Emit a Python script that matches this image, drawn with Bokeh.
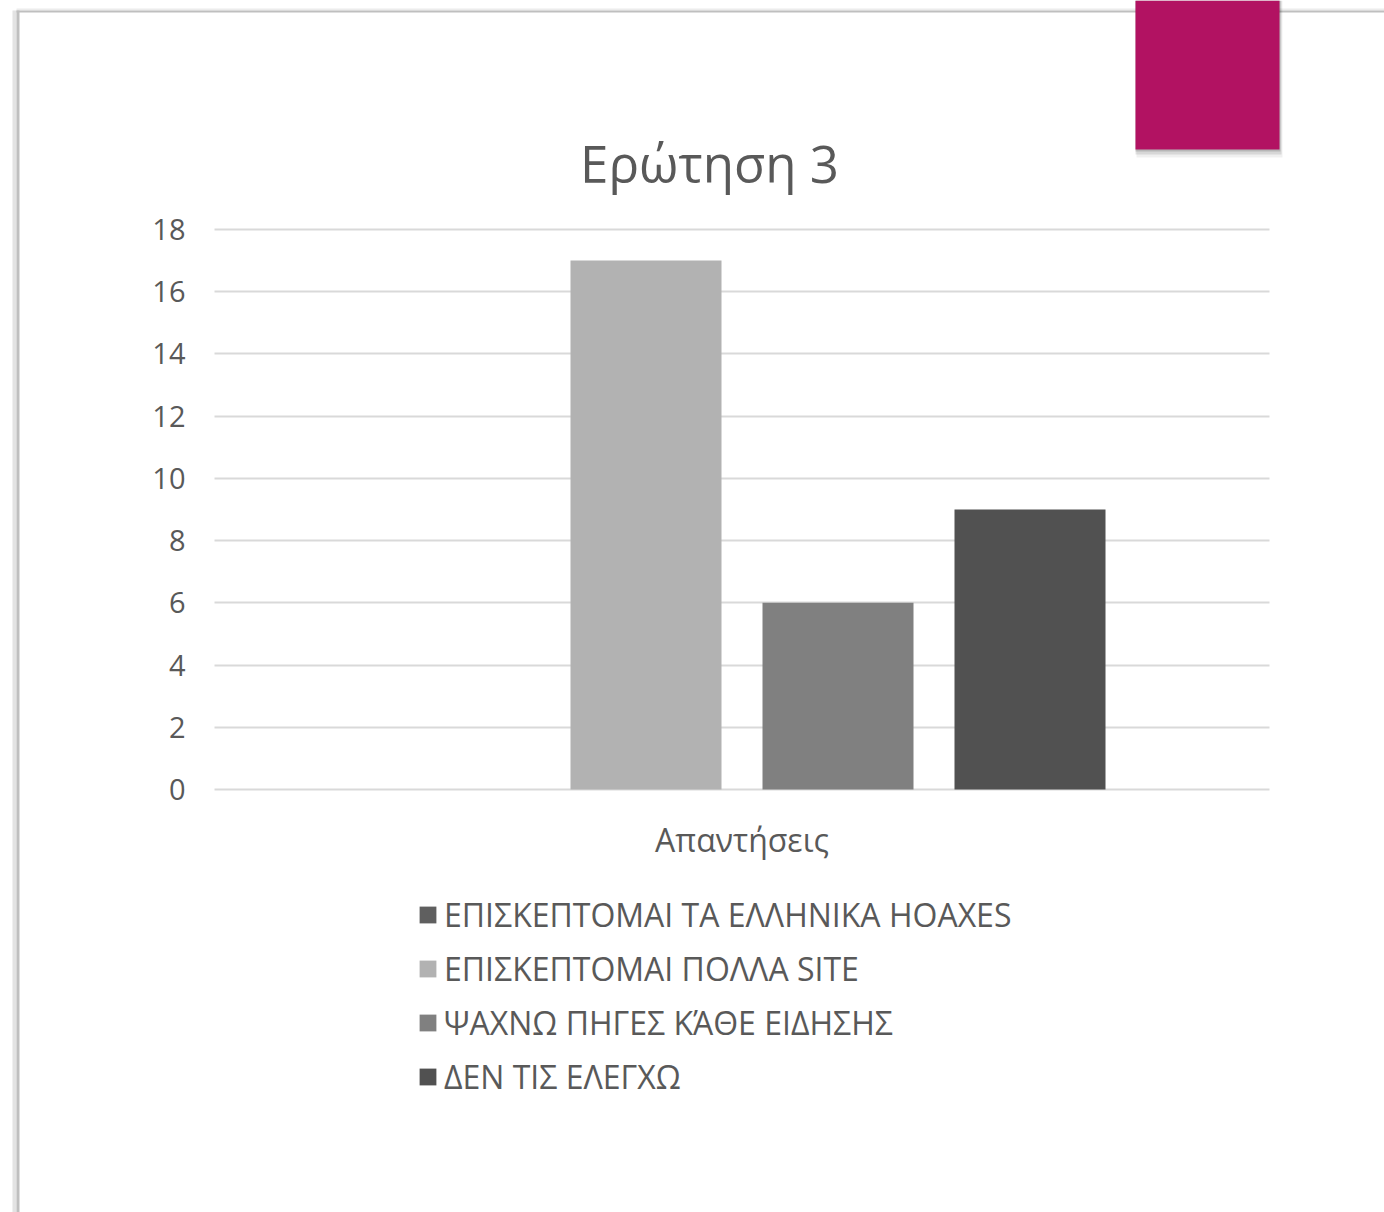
from bokeh.plotting import figure
from bokeh.models import (ColumnDataSource, Range1d, Legend, LegendItem,
                          Label, BoxAnnotation, FixedTicker)
from bokeh.transform import dodge
from bokeh.embed import file_html
from bokeh.resources import INLINE

# ---- data ----
categories = ["Απαντήσεις"]
series_names = [
    "ΕΠΙΣΚΕΠΤΟΜΑΙ ΤΑ ΕΛΛΗΝΙΚΑ HOAXES",
    "ΕΠΙΣΚΕΠΤΟΜΑΙ ΠΟΛΛΑ SITE",
    "ΨΑΧΝΩ ΠΗΓΕΣ ΚΆΘΕ ΕΙΔΗΣΗΣ",
    "ΔΕΝ ΤΙΣ ΕΛΕΓΧΩ",
]
series_values = [0, 17, 6, 9]
series_colors = ["#5f5f5f", "#b2b2b2", "#808080", "#515151"]
y_ticks = [0, 2, 4, 6, 8, 10, 12, 14, 16, 18]
title_text = "Ερώτηση 3"

FONT = "Open Sans"
TXT = "#595959"

# ---- layout (pixels) ----
W, H = 1384, 1212
PL, PR, PT, PB = 214, 1269, 229, 789
Y_MAX = y_ticks[-1]
n_cat = len(categories)
ppx = (PR - PL) / n_cat          # pixels per category unit
ppy = (PB - PT) / Y_MAX          # pixels per y unit

x_range = Range1d(-PL / ppx, n_cat + (W - PR) / ppx)
y_range = Range1d(-(H - PB) / ppy, Y_MAX + PT / ppy)

p = figure(width=W, height=H, output_backend="svg", toolbar_location=None,
           x_range=x_range, y_range=y_range,
           min_border_left=0, min_border_right=0,
           min_border_top=0, min_border_bottom=0)
p.outline_line_color = None
p.background_fill_color = "white"
p.border_fill_color = "white"

cat_pos = [i + 0.5 for i in range(n_cat)]
data = {"pos": cat_pos}
for i, v in enumerate(series_values):
    data[f"v{i}"] = [v]
src = ColumnDataSource(data)

step = 192 / ppx
bw = 151 / ppx
n = len(series_values)
items = []
for i, (name, col) in enumerate(zip(series_names, series_colors)):
    off = (i - (n - 1) / 2) * step
    r = p.vbar(x=dodge("pos", off), top=f"v{i}", bottom=0, width=bw,
               source=src, fill_color=col, line_color=None)
    items.append(LegendItem(label=name, renderers=[r]))

# axes (fixed inside the frame)
p.yaxis.fixed_location = 0
p.yaxis.ticker = FixedTicker(ticks=y_ticks)
p.yaxis.axis_line_color = None
p.yaxis.major_tick_line_color = None
p.yaxis.minor_tick_line_color = None
p.yaxis.major_tick_out = 0
p.yaxis.major_tick_in = 0
p.yaxis.major_label_text_font = FONT
p.yaxis.major_label_text_font_size = "29px"
p.yaxis.major_label_text_color = TXT
p.yaxis.major_label_standoff = 29

p.xaxis.fixed_location = 0
p.xaxis.ticker = FixedTicker(ticks=cat_pos)
p.xaxis.major_label_overrides = {pos: c for pos, c in zip(cat_pos, categories)}
p.xaxis.axis_line_color = None
p.xaxis.major_tick_line_color = None
p.xaxis.minor_tick_line_color = None
p.xaxis.major_tick_out = 0
p.xaxis.major_tick_in = 0
p.xaxis.major_label_text_font = FONT
p.xaxis.major_label_text_font_size = "32px"
p.xaxis.major_label_text_color = TXT
p.xaxis.major_label_standoff = 28

p.xgrid.grid_line_color = None
p.ygrid.ticker = FixedTicker(ticks=y_ticks)
p.ygrid.grid_line_color = "#d9d9d9"
p.ygrid.grid_line_width = 2
p.ygrid.cross_bounds = (0, n_cat)

legend = Legend(items=items, location=(417, H - 1098.5), orientation="vertical",
                border_line_color=None, background_fill_alpha=0,
                padding=0, margin=0, spacing=10, label_height=44,
                glyph_height=21, glyph_width=21, label_standoff=6,
                label_text_font=FONT, label_text_font_size="32px",
                label_text_color=TXT)
p.add_layout(legend)

title = Label(x=709, y=H - 162, x_units="screen", y_units="screen", text=title_text,
              text_align="center", text_baseline="middle",
              text_font=FONT, text_font_size="51px", text_color=TXT)
p.add_layout(title)

# slide frame decoration (screen units, canvas == frame)
def sbox(l, r, top_px, bot_px, color, alpha=1.0):
    p.add_layout(BoxAnnotation(left=l, right=r, top=H - top_px, bottom=H - bot_px,
                               left_units="screen", right_units="screen",
                               bottom_units="screen", top_units="screen",
                               fill_color=color, fill_alpha=alpha, line_color=None,
                               level="underlay"))

sbox(12, 16, 10, H, "#d0d0d0", 0.6)
sbox(16, W, 8, 10, "#e0e0e0", 0.6)
sbox(16, W, 10, 12, "#bfbfbf")
sbox(16, 19, 10, H, "#bfbfbf")
# magenta tab with soft shadow
sbox(1136, 1282, 0, 157, "#000000", 0.06)
sbox(1135, 1281, 0, 154, "#000000", 0.10)
sbox(1135, 1280, 0, 151, "#000000", 0.15)
sbox(1135, 1279, 0, 149, "#b21262")

open("out.html", "w").write(file_html(p, INLINE))
